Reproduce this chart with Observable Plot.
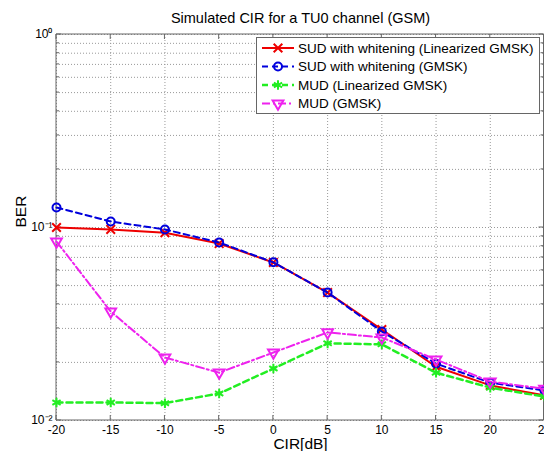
<!DOCTYPE html>
<html><head><meta charset="utf-8">
<script src="https://cdn.jsdelivr.net/npm/d3@7"></script>
<script src="https://cdn.jsdelivr.net/npm/@observablehq/plot@0.6"></script>
<style>body{margin:0;background:#fff;overflow:hidden}</style>
</head><body><div id="chart"></div>
<script>
const cir = [-20, -15, -10, -5, 0, 5, 10, 15, 20, 25];
const sudLinearized = [0.100, 0.0977, 0.094, 0.0826, 0.0659, 0.046, 0.0296, 0.0190, 0.0152, 0.0135];
const sudGmsk = [0.127, 0.1074, 0.0977, 0.0836, 0.0660, 0.046, 0.0289, 0.0197, 0.0157, 0.0143];
const mudLinearized = [0.0124, 0.0124, 0.0123, 0.0138, 0.0186, 0.0251, 0.0248, 0.0177, 0.0148, 0.0133];
const mudGmsk = [0.0846, 0.0367, 0.0212, 0.0177, 0.0225, 0.0286, 0.0269, 0.0207, 0.0159, 0.0146];
const seriesNames = [
  "SUD with whitening (Linearized GMSK)",
  "SUD with whitening (GMSK)",
  "MUD (Linearized GMSK)",
  "MUD (GMSK)"
];
const seriesValues = [sudLinearized, sudGmsk, mudLinearized, mudGmsk];
const xTicks = [-20, -15, -10, -5, 0, 5, 10, 15, 20, 25];
const yMajor = [0.01, 0.1, 1];
const yTickLabels = ["10\u207B\u00B2", "10\u207B\u00B9", "10\u2070"];
const titleText = "Simulated CIR for a TU0 channel (GSM)";
const xLabel = "CIR[dB]";
const yLabel = "BER";

const styles = [
  {color: "#ee0000", dash: null, symbol: "times", d3sym: d3.symbolTimes, r: 4, rotate: 0, sw: 2},
  {color: "#0000dd", dash: "6,4", symbol: "circle", d3sym: d3.symbolCircle, r: 4, rotate: 0, sw: 2},
  {color: "#22ee22", dash: "6,4", symbol: "asterisk", d3sym: d3.symbolAsterisk, r: 4.5, rotate: 0, sw: 2.5},
  {color: "#ee22ee", dash: "8,3,2,3", symbol: "triangle", d3sym: d3.symbolTriangle, r: 4, rotate: 180, sw: 2}
];

const FONT = "'Liberation Sans', Arial, Helvetica, sans-serif";
const yGrid = d3.scaleLog().domain([0.01, 1]).ticks();

const lineMarks = [];
seriesNames.forEach((name, s) => {
  const st = styles[s];
  const rows = cir.map((c, i) => ({x: c, y: seriesValues[s][i]}));
  lineMarks.push(Plot.line(rows, {x: "x", y: "y", stroke: st.color, strokeWidth: st.sw, strokeDasharray: st.dash}));
  lineMarks.push(Plot.dot(rows, {x: "x", y: "y", stroke: st.color, strokeWidth: 2, fill: "none", symbol: st.symbol, r: st.r, rotate: st.rotate}));
});

function frameTicks(index, scales, values, dims) {
  const g = d3.create("svg:g");
  const l = dims.marginLeft, r = dims.width - dims.marginRight - 0.5;
  const t = dims.marginTop, b = dims.height - dims.marginBottom;
  const col = "#666";
  for (const v of xTicks) {
    const px = scales.x(v);
    g.append("line").attr("x1", px).attr("x2", px).attr("y1", b).attr("y2", b - 5).attr("stroke", col);
    g.append("line").attr("x1", px).attr("x2", px).attr("y1", t).attr("y2", t + 5).attr("stroke", col);
  }
  for (const v of yGrid) {
    const py = scales.y(v);
    const len = yMajor.includes(v) ? 5 : 3;
    g.append("line").attr("x1", l).attr("x2", l + len).attr("y1", py).attr("y2", py).attr("stroke", col);
    g.append("line").attr("x1", r).attr("x2", r - len).attr("y1", py).attr("y2", py).attr("stroke", col);
  }
  g.append("path").attr("d", `M${l},${t}H${r}V${b}H${l}Z`).attr("fill", "none").attr("stroke", col);
  return g.node();
}

function legend(index, scales, values, dims) {
  const g = d3.create("svg:g").attr("font-family", FONT).attr("text-anchor", "start");
  const x0 = 256.5, y0 = 37.5, w = 283, h = 76;
  g.append("rect").attr("x", x0).attr("y", y0).attr("width", w).attr("height", h)
    .attr("fill", "#fff").attr("stroke", "#666");
  seriesNames.forEach((name, s) => {
    const st = styles[s];
    const yy = 48 + s * 18.5;
    g.append("line").attr("x1", 262).attr("x2", 294).attr("y1", yy).attr("y2", yy)
      .attr("stroke", st.color).attr("stroke-width", st.sw).attr("stroke-dasharray", st.dash);
    g.append("path").attr("d", d3.symbol(st.d3sym, Math.PI * st.r * st.r)())
      .attr("transform", `translate(278,${yy}) rotate(${st.rotate})`)
      .attr("fill", "none").attr("stroke", st.color).attr("stroke-width", 2);
    g.append("text").attr("x", 298).attr("y", yy).attr("dy", "0.36em")
      .attr("text-anchor", "start")
      .attr("font-size", 13.5).attr("fill", "#000").text(name);
  });
  return g.node();
}

const chart = Plot.plot({
  width: 544,
  height: 451,
  marginTop: 34,
  marginBottom: 31,
  marginLeft: 56,
  marginRight: 0,
  style: {fontFamily: FONT, fontSize: "12px", color: "#000", background: "#fff"},
  x: {type: "linear", domain: [-20, 25], axis: null},
  y: {type: "log", domain: [0.01, 1], axis: null},
  marks: [
    Plot.ruleY(yGrid, {stroke: "#999", strokeDasharray: "1,2", strokeWidth: 1}),
    Plot.ruleX(xTicks, {stroke: "#999", strokeDasharray: "1,2", strokeWidth: 1}),
    frameTicks,
    Plot.axisX({ticks: xTicks, tickSize: 0, tickPadding: 5, tickFormat: d => String(d), fontSize: 12, label: null}),
    Plot.axisY({ticks: yMajor, tickSize: 0, tickPadding: 4, tickFormat: d => yTickLabels[yMajor.indexOf(d)], fontSize: 12, label: null}),
    ...lineMarks,
    legend,
    Plot.text([titleText], {frameAnchor: "top", lineAnchor: "middle", dy: -16, fontSize: 14.5, fill: "#000"}),
    Plot.text([xLabel], {frameAnchor: "bottom", lineAnchor: "middle", dy: 24, fontSize: 15.5, fill: "#000"}),
    Plot.text([yLabel], {frameAnchor: "left", lineAnchor: "middle", dx: -35, rotate: -90, fontSize: 15.5, fill: "#000"})
  ]
});
document.getElementById("chart").appendChild(chart);
</script>
</body></html>
